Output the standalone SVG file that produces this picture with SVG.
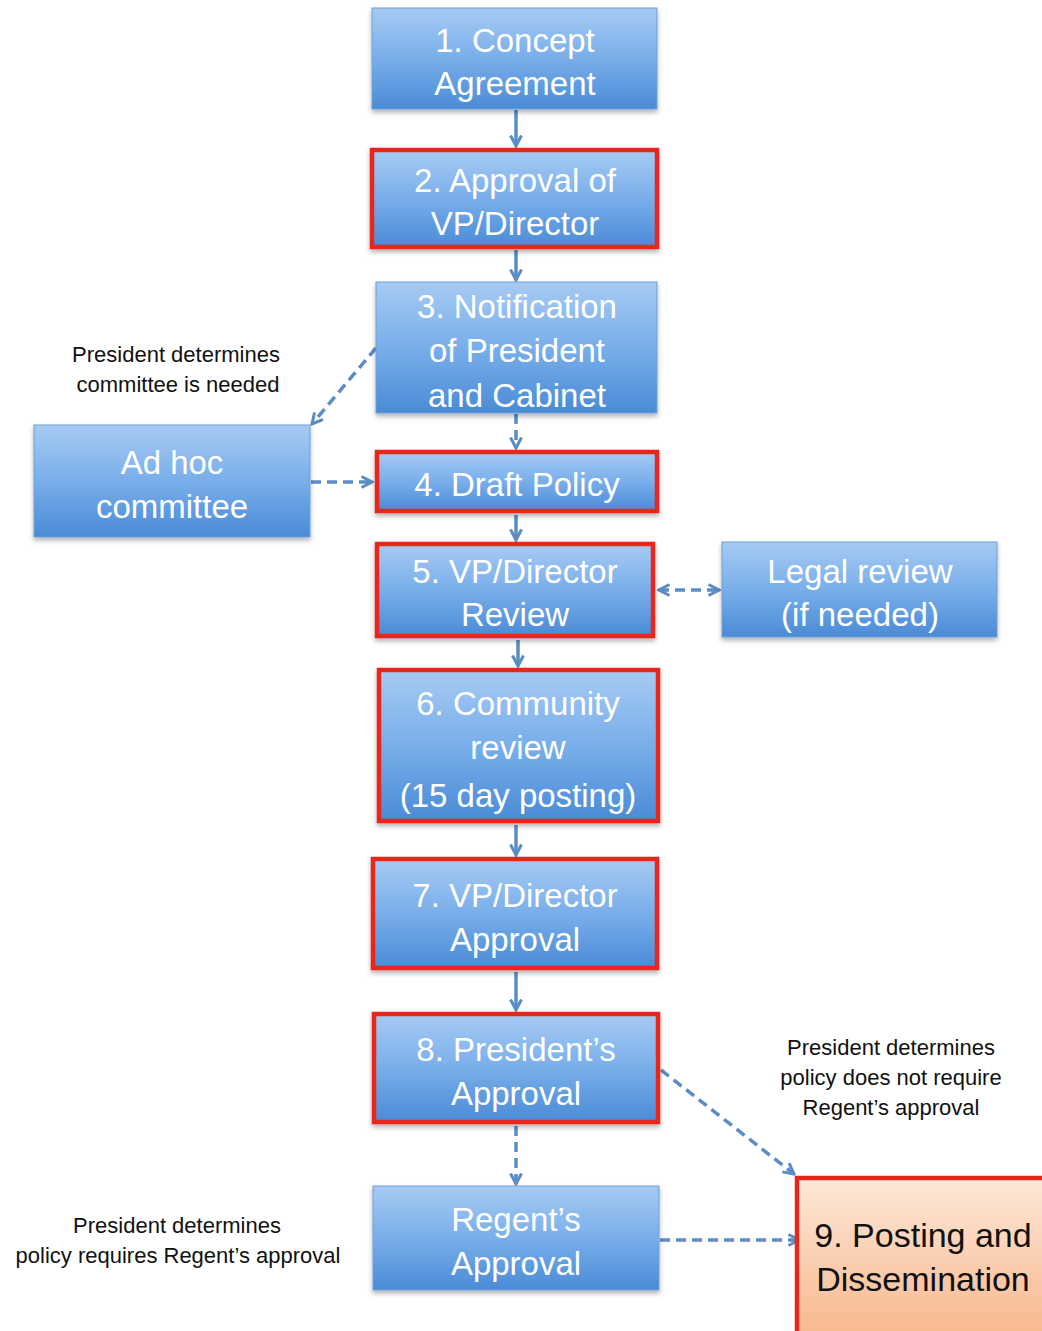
<svg xmlns="http://www.w3.org/2000/svg" width="1042" height="1331" viewBox="0 0 1042 1331">
<defs>
<linearGradient id="blue" x1="0" y1="0" x2="0" y2="1">
<stop offset="0" stop-color="#a6cbf3"/>
<stop offset="0.5" stop-color="#79aeea"/>
<stop offset="1" stop-color="#4a8bd6"/>
</linearGradient>
<linearGradient id="peach" x1="0" y1="0" x2="0" y2="1">
<stop offset="0" stop-color="#fde8d8"/>
<stop offset="1" stop-color="#f8b488"/>
</linearGradient>
<filter id="sh" x="-10%" y="-10%" width="120%" height="130%">
<feDropShadow dx="0" dy="3" stdDeviation="2.5" flood-color="#000" flood-opacity="0.3"/>
</filter>
<marker id="ah" viewBox="0 0 14 14" refX="12" refY="7" markerWidth="14" markerHeight="14" markerUnits="userSpaceOnUse" orient="auto-start-reverse">
<path d="M1.5,1.5 L12,7 L1.5,12.5" fill="none" stroke="#5b8cc4" stroke-width="3"/>
</marker>
</defs>
<style>
.box{fill:url(#blue);stroke:#6d9fd8;stroke-width:1;filter:url(#sh)}
.red{fill:url(#blue);stroke:#e8261a;stroke-width:4.5;filter:url(#sh)}
.t{font-family:"Liberation Sans",Arial,sans-serif;font-size:33px;fill:#fff;text-anchor:middle}
.t9{font-family:"Liberation Sans",Arial,sans-serif;font-size:34px;fill:#111;text-anchor:middle}
.lb{font-family:"Liberation Sans",Arial,sans-serif;font-size:22px;fill:#111;text-anchor:middle}
.c{stroke:#5b8cc4;stroke-width:3.5;fill:none;marker-end:url(#ah)}
.d{stroke-dasharray:10,6}
</style>
<rect width="1042" height="1331" fill="#fff"/>
<g id="connectors">
<line class="c" x1="516" y1="110" x2="516" y2="146"/>
<line class="c" x1="516" y1="250" x2="516" y2="280"/>
<line class="c d" x1="516" y1="414" x2="516" y2="448"/>
<line class="c" x1="516" y1="515" x2="516" y2="540"/>
<line class="c" x1="518" y1="640" x2="518" y2="666"/>
<line class="c" x1="516" y1="825" x2="516" y2="855"/>
<line class="c" x1="516" y1="972" x2="516" y2="1010"/>
<line class="c d" x1="516" y1="1126" x2="516" y2="1184"/>
<line class="c d" x1="661" y1="1070" x2="794" y2="1174"/>
<line class="c d" x1="660" y1="1240" x2="799" y2="1240"/>
<line class="c d" x1="376" y1="348" x2="312" y2="424"/>
<line class="c d" x1="311" y1="482" x2="372" y2="482"/>
<line class="c d" x1="659" y1="590" x2="719" y2="590" style="marker-start:url(#ah)"/>
</g>
<g id="n1"><rect class="box" x="372" y="8" width="285" height="101"/>
<text class="t" x="515" y="52">1. Concept</text><text class="t" x="515" y="95">Agreement</text></g>
<g id="n2"><rect class="red" x="372" y="150" width="285" height="97"/>
<text class="t" x="515" y="192">2. Approval of</text><text class="t" x="515" y="235">VP/Director</text></g>
<g id="n3"><rect class="box" x="376" y="282" width="281" height="131"/>
<text class="t" x="517" y="318">3. Notification</text><text class="t" x="517" y="362">of President</text><text class="t" x="517" y="407">and Cabinet</text></g>
<g id="adhoc"><rect class="box" x="34" y="425" width="276" height="112"/>
<text class="t" x="172" y="474">Ad hoc</text><text class="t" x="172" y="518">committee</text></g>
<g id="n4"><rect class="red" x="377" y="452" width="280" height="59"/>
<text class="t" x="517" y="496">4. Draft Policy</text></g>
<g id="n5"><rect class="red" x="377" y="544" width="276" height="92"/>
<text class="t" x="515" y="583">5. VP/Director</text><text class="t" x="515" y="626">Review</text></g>
<g id="legal"><rect class="box" x="722" y="542" width="275" height="95"/>
<text class="t" x="860" y="583">Legal review</text><text class="t" x="860" y="626">(if needed)</text></g>
<g id="n6"><rect class="red" x="379" y="670" width="279" height="151"/>
<text class="t" x="518" y="715">6. Community</text><text class="t" x="518" y="759">review</text><text class="t" x="518" y="807">(15 day posting)</text></g>
<g id="n7"><rect class="red" x="373" y="859" width="284" height="109"/>
<text class="t" x="515" y="907">7. VP/Director</text><text class="t" x="515" y="951">Approval</text></g>
<g id="n8"><rect class="red" x="374" y="1014" width="284" height="108"/>
<text class="t" x="516" y="1061">8. President’s</text><text class="t" x="516" y="1105">Approval</text></g>
<g id="regent"><rect class="box" x="373" y="1186" width="286" height="104"/>
<text class="t" x="516" y="1231">Regent’s</text><text class="t" x="516" y="1275">Approval</text></g>
<g id="n9"><rect x="797" y="1178" width="260" height="170" fill="url(#peach)" stroke="#e8261a" stroke-width="4.5"/>
<text class="t9" x="923" y="1247">9. Posting and</text><text class="t9" x="923" y="1291">Dissemination</text></g>
<g id="labels">
<text class="lb" x="176" y="362">President determines</text>
<text class="lb" x="178" y="392">committee is needed</text>
<text class="lb" x="891" y="1055">President determines</text>
<text class="lb" x="891" y="1085">policy does not require</text>
<text class="lb" x="891" y="1115">Regent’s approval</text>
<text class="lb" x="177" y="1233">President determines</text>
<text class="lb" x="178" y="1263">policy requires Regent’s approval</text>
</g>
</svg>
